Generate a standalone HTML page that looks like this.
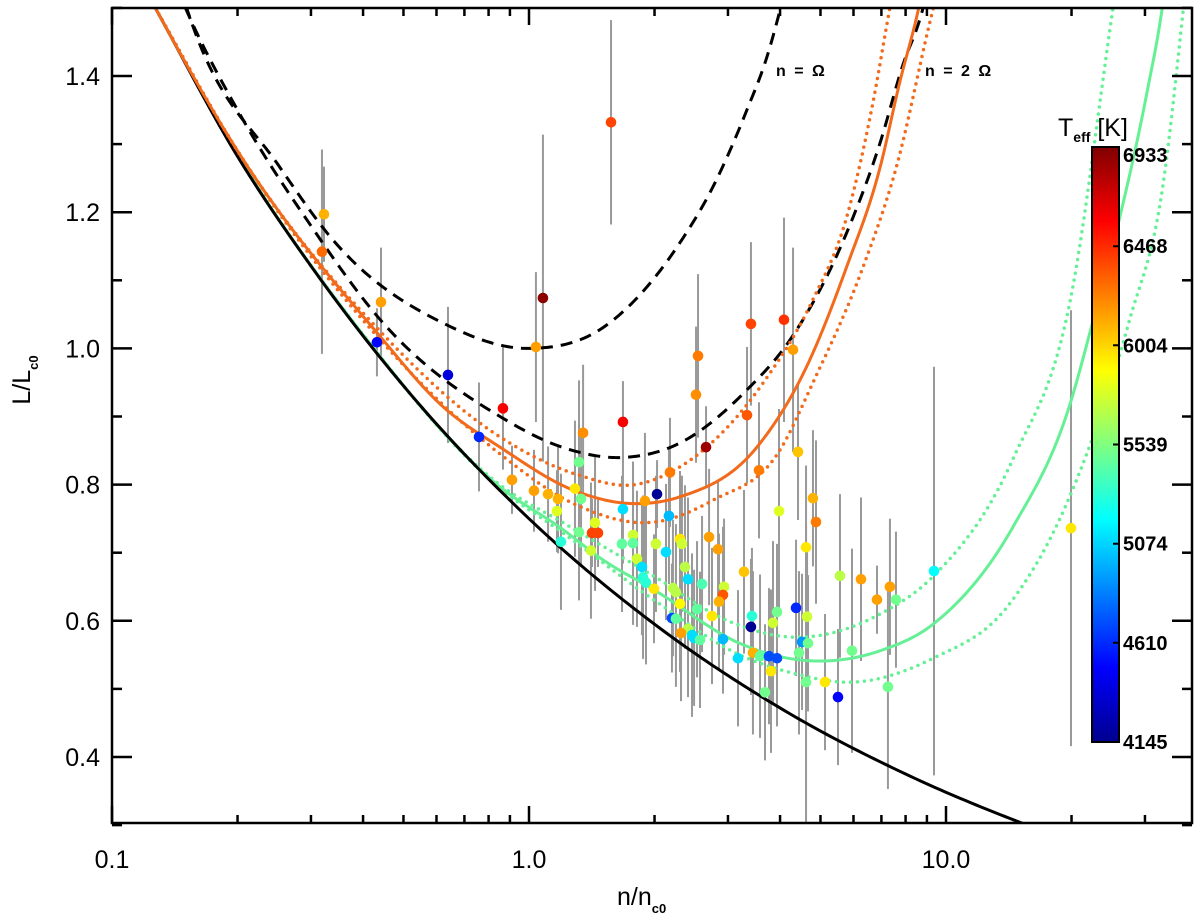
<!DOCTYPE html>
<html><head><meta charset="utf-8"><style>
html,body{margin:0;padding:0;background:#fff;}
svg{display:block;font-family:"Liberation Sans",sans-serif;}
</style></head><body>
<svg id="chart" width="1200" height="921" viewBox="0 0 1200 921" xmlns="http://www.w3.org/2000/svg">
<defs><clipPath id="clip"><rect x="112" y="8" width="1080" height="815"/></clipPath>
<linearGradient id="jet" x1="0" y1="1" x2="0" y2="0">
<stop offset="0" stop-color="#00008f"/><stop offset="0.125" stop-color="#0000ff"/><stop offset="0.375" stop-color="#00ffff"/><stop offset="0.625" stop-color="#ffff00"/><stop offset="0.875" stop-color="#ff0000"/><stop offset="1" stop-color="#800000"/>
</linearGradient></defs>
<g id="plot" clip-path="url(#clip)"></g>
<g id="axes"></g>
<text x="776" y="76" font-size="16" font-weight="bold" letter-spacing="2">n = Ω</text>
<text x="925" y="76" font-size="16" font-weight="bold" letter-spacing="2">n = 2 Ω</text>
<g>
<rect x="1092" y="147" width="27" height="595" fill="url(#jet)" stroke="#000" stroke-width="2"/>
<text x="1058" y="136" font-size="25">T<tspan font-size="14" dy="6" font-weight="bold">eff</tspan><tspan dy="-6"> [K]</tspan></text>
<g id="cbticks"></g>
</g>
<text x="617" y="905" font-size="25">n/n<tspan font-size="13" dy="8" font-weight="bold">c0</tspan></text>
<text transform="translate(30,380) rotate(-90)" font-size="25" text-anchor="middle">L/L<tspan font-size="13" dy="8" font-weight="bold">c0</tspan></text>
</svg>
<script>
const NS="http://www.w3.org/2000/svg";
// ---- data ----
const starN=[0.3224,0.3188,0.4417,0.4319,0.6393,0.7588,0.8661,0.9104,1.039,1.080,1.573,1.028,1.111,1.174,1.167,1.289,1.318,1.333,1.193,1.318,1.440,1.416,1.464,1.408,1.680,1.671,1.776,1.776,1.815,1.866,1.877,1.908,1.994,1.897,2.028,2.178,2.166,2.016,2.131,2.302,2.327,2.366,2.406,2.214,2.251,2.302,2.202,2.251,2.406,2.315,2.460,2.488,2.571,2.529,2.600,2.658,2.703,2.840,2.936,2.919,2.855,2.747,2.919,3.171,3.278,3.444,3.425,3.406,3.581,3.763,3.933,3.805,3.681,3.847,3.933,3.977,3.561,4.417,4.797,4.878,4.617,4.369,4.643,4.516,4.668,4.441,4.617,5.127,5.508,5.569,5.951,6.254,6.832,7.338,7.586,7.257,9.359,19.94,2.543,2.515,3.333,3.406,4.088,4.297,1.680,1.348];
const starL=[1.197,1.142,1.068,1.009,0.961,0.870,0.912,0.807,1.002,1.074,1.332,0.791,0.786,0.779,0.761,0.794,0.833,0.779,0.716,0.730,0.744,0.729,0.729,0.703,0.764,0.713,0.726,0.714,0.691,0.679,0.664,0.656,0.647,0.776,0.786,0.818,0.754,0.713,0.701,0.720,0.713,0.679,0.661,0.648,0.642,0.625,0.604,0.603,0.588,0.582,0.579,0.575,0.572,0.617,0.654,0.855,0.723,0.705,0.650,0.638,0.628,0.607,0.573,0.545,0.672,0.553,0.607,0.591,0.548,0.548,0.545,0.526,0.495,0.597,0.613,0.761,0.821,0.848,0.780,0.745,0.708,0.619,0.606,0.569,0.567,0.553,0.510,0.510,0.488,0.666,0.556,0.661,0.631,0.650,0.631,0.503,0.673,0.736,0.989,0.932,0.902,1.036,1.042,0.998,0.892,0.876];
const starErr=[0.07,0.15,0.08,0.05,0.10,0.08,0.09,0.05,0.11,0.24,0.15,0.06,0.07,0.08,0.06,0.10,0.12,0.10,0.10,0.10,0.10,0.05,0.05,0.10,0.08,0.10,0.10,0.12,0.10,0.10,0.12,0.12,0.08,0.10,0.05,0.08,0.10,0.10,0.10,0.10,0.10,0.12,0.12,0.10,0.10,0.10,0.08,0.10,0.10,0.10,0.12,0.10,0.10,0.10,0.10,0.06,0.10,0.10,0.10,0.10,0.10,0.10,0.08,0.10,0.12,0.12,0.10,0.10,0.12,0.10,0.10,0.12,0.10,0.12,0.10,0.15,0.10,0.10,0.10,0.12,0.12,0.10,0.10,0.10,0.10,0.12,0.23,0.10,0.10,0.12,0.15,0.12,0.05,0.10,0.10,0.15,0.30,0.32,0.12,0.10,0.10,0.12,0.15,0.15,0.06,0.10];
const starTeff=[6100,6300,6150,4500,4400,4600,6600,6150,6150,6900,6400,6150,6100,6100,5800,5950,5500,5500,5300,5500,5800,6400,6400,5750,5100,5450,5750,5450,5750,5100,5300,5300,5950,6150,4200,6250,5000,5750,5100,5950,5750,5700,5100,5700,5700,5900,4700,5450,5700,6150,5100,5100,5450,5450,5400,6850,6150,6150,5750,6350,6100,5950,5000,5100,6050,6100,5300,4200,5450,4700,4700,5950,5500,5750,5500,5800,6250,6050,6100,6250,5950,4600,5750,4900,5500,5500,5500,5950,4500,5700,5500,6150,6150,6150,5500,5500,5200,5950,6250,6200,6350,6400,6450,6150,6600,6200];
const blackN=[0.1,0.127,0.2,0.3,0.5,1,2,4,8,15.5,20];
const blackL=[1.615,1.5,1.282,1.121,0.945,0.75,0.595,0.472,0.375,0.301,0.276];
const dash1N=[0.12,0.162,0.25,0.339,0.623,1.0,1.5,2.3,2.76,3.33,3.72,4.0,4.2];
const dash1L=[1.7,1.448,1.27,1.159,1.037,1.0,1.03,1.155,1.237,1.35,1.428,1.497,1.55];
const dash2N=[0.11,0.15,0.2,0.3,0.44,0.852,1.2,1.7,2.3,3.33,4.22,5.78,6.95,7.85,8.81,9.2];
const dash2L=[1.72,1.5,1.35,1.18,1.042,0.9,0.855,0.84,0.861,0.939,1.012,1.17,1.302,1.413,1.5,1.55];
const orN=[0.1,0.127,0.2,0.432,0.623,0.852,1.3,1.8,2.3,3.52,4.63,5.78,6.95,7.74,8.6,9];
const orL=[1.62,1.5,1.29,1.023,0.914,0.855,0.79,0.772,0.782,0.855,0.973,1.12,1.266,1.39,1.5,1.56];
const orUpN=[0.127,0.2,0.432,0.852,1.3,1.8,2.3,3.64,4.79,5.78,6.7,7.32,7.6];
const orUpL=[1.5,1.29,1.03,0.87,0.815,0.80,0.826,0.949,1.071,1.193,1.365,1.497,1.55];
const orLoN=[0.127,0.2,0.432,0.852,1.3,2.0,2.76,4.0,4.79,6.33,7.6,9.3,9.6];
const orLoL=[1.5,1.29,1.018,0.845,0.77,0.745,0.777,0.851,0.949,1.12,1.266,1.497,1.53];
const grN=[0.1,0.127,0.2,0.4,0.85,1.2,1.5,2.0,3.2,3.84,5.13,6.95,9.31,14.48,19.83,22.51,26.14,30.34,33,34];
const grL=[1.615,1.5,1.284,1.02,0.797,0.735,0.69,0.645,0.567,0.55,0.541,0.556,0.595,0.738,0.918,1.04,1.194,1.376,1.5,1.56];
const grUpN=[0.127,0.2,0.4,0.85,1.2,2.0,3.0,4.3,6.95,9.31,14.48,20,25.15,26];
const grUpL=[1.5,1.284,1.02,0.80,0.745,0.665,0.6,0.576,0.61,0.665,0.838,1.08,1.5,1.56];
const grLoN=[0.127,0.2,0.4,0.85,1.2,2.0,3.2,4.3,6.0,9.31,14,19.4,27.5,33.2,37.1,38];
const grLoL=[1.5,1.284,1.02,0.795,0.73,0.63,0.55,0.523,0.51,0.545,0.62,0.77,1.04,1.243,1.5,1.56];
const yTicks=[0.4,0.6,0.8,1.0,1.2,1.4];
const yTickLabels=["0.4","0.6","0.8","1.0","1.2","1.4"];
const xTicks=[0.1,1,10];
const xTickLabels=["0.1","1.0","10.0"];
const cbTicks=[6933,6468,6004,5539,5074,4610,4145];
// ---- scales ----
const X=n=>112+417*(Math.log10(n)+1);
const Y=L=>76+(1.4-L)*681;
const TMIN=4145,TMAX=6933;
const CBY=t=>742-(t-TMIN)/(TMAX-TMIN)*595;
function jet(t){let v=(t-TMIN)/(TMAX-TMIN);v=Math.max(0,Math.min(1,v));
 const c=x=>Math.round(255*Math.max(0,Math.min(1,x)));
 const r=c(Math.min(4*v-1.5,-4*v+4.5)),g=c(Math.min(4*v-0.5,-4*v+3.5)),b=c(Math.min(4*v+0.5,-4*v+2.5));
 return `rgb(${r},${g},${b})`;}
const plot=document.getElementById('plot'),axes=document.getElementById('axes');
function mk(tag,attrs,parent){const e=document.createElementNS(NS,tag);for(const k in attrs)e.setAttribute(k,attrs[k]);parent.appendChild(e);return e;}
function curvePath(ns,ls){
 const xs=ns.map(n=>Math.log10(n)),ys=ls,k=xs.length;
 const s=[];for(let i=0;i<k-1;i++)s.push((ys[i+1]-ys[i])/(xs[i+1]-xs[i]));
 const m=[];for(let i=0;i<k;i++){
  if(i===0)m.push(s[0]);else if(i===k-1)m.push(s[k-2]);
  else{const h0=xs[i]-xs[i-1],h1=xs[i+1]-xs[i];m.push((h1*s[i-1]+h0*s[i])/(h0+h1));}}
 const pts=[];
 for(let i=0;i<k-1;i++){const h=xs[i+1]-xs[i];
  for(let j=0;j<24;j++){const t=j/24,t2=t*t,t3=t2*t;
   const y=(2*t3-3*t2+1)*ys[i]+(t3-2*t2+t)*h*m[i]+(-2*t3+3*t2)*ys[i+1]+(t3-t2)*h*m[i+1];
   pts.push([X(Math.pow(10,xs[i]+t*h)),Y(y)]);}}
 pts.push([X(ns[k-1]),Y(ys[k-1])]);
 return 'M'+pts.map(p=>p[0].toFixed(2)+','+p[1].toFixed(2)).join(' L');}
// error bars
for(let i=0;i<starN.length;i++){
 const e=mk('line',{x1:X(starN[i]),x2:X(starN[i]),y1:Y(starL[i]+starErr[i]),y2:Y(starL[i]-starErr[i]),stroke:'#999',"stroke-width":2},plot);
 
 
}
function curve(ns,ls,color,w,dash,name){const e=mk('path',{d:curvePath(ns,ls),fill:'none',stroke:color,"stroke-width":w},plot);
 if(dash)e.setAttribute('stroke-dasharray',dash);
 if(dash==='0 7')e.setAttribute('stroke-linecap','round');
 
 }
curve(grUpN,grUpL,'#66f096',3.5,'0 7','green-dotted-upper');
curve(grLoN,grLoL,'#66f096',3.5,'0 7','green-dotted-lower');
curve(grN,grL,'#66f096',3,null,'green-fit-curve');
curve(blackN,blackL,'#000',3,null,'lower-bound-curve');
curve(dash1N,dash1L,'#000',3,'12 8','dashed-curve-n-omega');
curve(dash2N,dash2L,'#000',3,'12 8','dashed-curve-n-2omega');
curve(orUpN,orUpL,'#f26b1d',3.5,'0 7','orange-dotted-upper');
curve(orLoN,orLoL,'#f26b1d',3.5,'0 7','orange-dotted-lower');
curve(orN,orL,'#f26b1d',3,null,'orange-fit-curve');
for(let i=0;i<starN.length;i++){
 const c=mk('circle',{cx:X(starN[i]),cy:Y(starL[i]),r:5.3,fill:jet(starTeff[i])},plot);
 
 
}
// axes frame
const fr=mk('rect',{x:112,y:8,width:1080,height:815,fill:'none',stroke:'#000',"stroke-width":2.5},axes);


for(let v=0.3;v<=1.5001;v+=0.1){const vv=Math.round(v*10)/10;const maj=yTicks.some(t=>Math.abs(t-vv)<1e-6);const len=maj?20:10;
 const y=Y(vv);
 const a=mk('line',{x1:112,x2:112+len,y1:y,y2:y,stroke:'#000',"stroke-width":2.5},axes);
 
 const b=mk('line',{x1:1192,x2:1192-len,y1:y,y2:y,stroke:'#000',"stroke-width":2.5},axes);
 }
yTicks.forEach((v,i)=>{const t=mk('text',{x:100,y:Y(v)+9,"font-size":25,"text-anchor":"end"},axes);t.textContent=yTickLabels[i];
 });
for(let dec=0.1;dec<50;dec*=10){for(let k=1;k<10;k++){const n=dec*k;const x=X(n);if(x<111||x>1193)continue;const len=k===1?17:8;
 const a=mk('line',{x1:x,x2:x,y1:823,y2:823-len,stroke:'#000',"stroke-width":2.5},axes);
 
 const b=mk('line',{x1:x,x2:x,y1:8,y2:8+len,stroke:'#000',"stroke-width":2.5},axes);
 }}
xTicks.forEach((v,i)=>{const t=mk('text',{x:X(v),y:868,"font-size":25,"text-anchor":"middle"},axes);t.textContent=xTickLabels[i];
 });
const cb=document.getElementById('cbticks');
cbTicks.forEach(v=>{const y=CBY(v);
 const l=mk('line',{x1:1113,x2:1119,y1:y,y2:y,stroke:'#000',"stroke-width":2},cb);
 
 const ly=Math.max(y,155);
 const t=mk('text',{x:1123,y:ly+7,"font-size":20,"font-weight":"bold"},cb);t.textContent=String(v);
 });
</script>
</body></html>
